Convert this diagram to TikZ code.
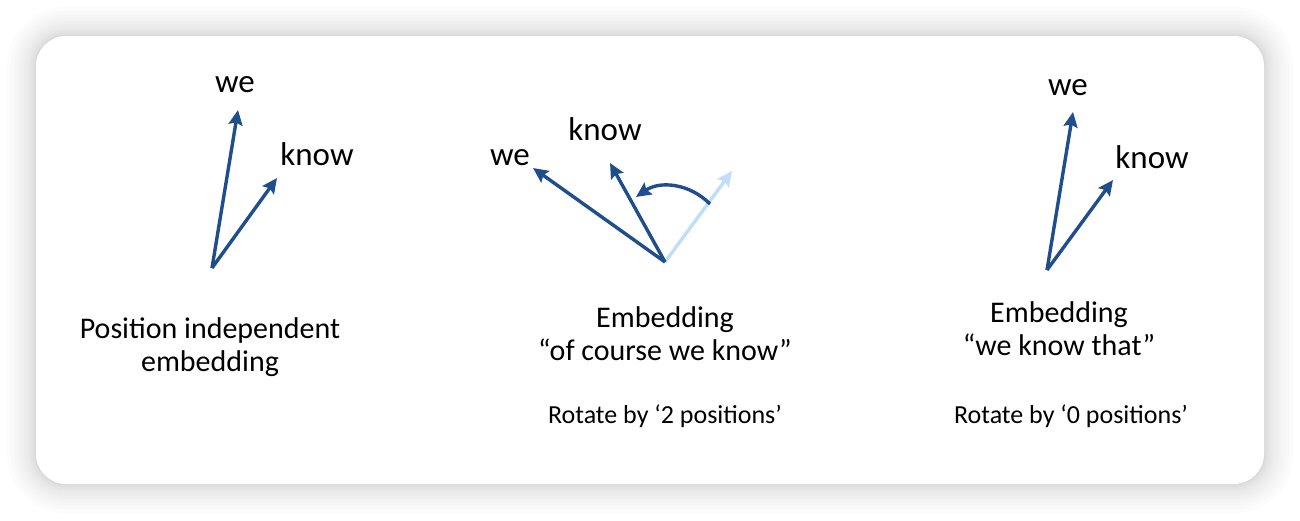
\documentclass[tikz,border=0pt]{standalone}
\usepackage{fontspec}
\setmainfont{Carlito}
\usetikzlibrary{positioning,arrows.meta}
\definecolor{vecblue}{HTML}{1F4E8C}
\definecolor{vecpale}{HTML}{C0DEF7}

\begin{document}
\begin{tikzpicture}[x=0.5pt,y=-0.5pt,>={Stealth[length=7.5pt,width=7pt,inset=1.2pt]},
		vec/.style={->,line width=1.7pt,vecblue},
		word/.style={font=\fontsize{16.5}{19}\selectfont,inner sep=0pt},
		caption/.style={font=\fontsize{15}{16.5}\selectfont,inner sep=0pt,align=center},
		note/.style={font=\fontsize{13}{15}\selectfont,inner sep=0pt}]
		\useasboundingbox (0,0) rectangle (1300,520);
		% card and its soft shadow
		\foreach \s in {1,...,14}
		\fill[black,opacity=0.011,rounded corners=15pt+0.075pt*\s*\s] (36-0.15*\s*\s,36-0.15*\s*\s) rectangle (1264+0.15*\s*\s,484+0.15*\s*\s);
		\fill[white,rounded corners=15pt] (36,36) rectangle (1264,484);
		
		% position independent
		\coordinate (o1) at (212,268);
		\coordinate (we1 tip) at (238,110);
		\coordinate (know1 tip) at (277,178);
		\node[word]    (we1)   at (235,85) {we};
		\node[word]    (know1) at (317,154) {know};
		\draw[vec] (o1) -- (we1 tip);
		\draw[vec] (o1) -- (know1 tip);
		\node[caption] (cap1)  at (210,347) {Position independent\\embedding};
		
		% rotated by two positions
		\coordinate (o2) at (665,262);
		\coordinate (we2 tip) at (533,168);
		\coordinate (know2 tip) at (610,163);
		\coordinate (base2 tip) at (732,171);
		\coordinate (turn2) at (710,204);
		\coordinate (turn2 tip) at (636,197);
		\node[word]    (we2)   at (510,158) {we};
		\node[word]    (know2) at (605,129) {know};
		\draw[vec,vecpale] (o2) -- (base2 tip);
		\draw[vec] (o2) -- (we2 tip);
		\draw[vec] (o2) -- (know2 tip);
		\draw[vec] (turn2) to[bend right=40] (turn2 tip);
		\node[caption] (cap2)  at (665,334) {Embedding\\“of course we know”};
		\node[note]    (rot2)  at (665,416) {Rotate by ‘2 positions’};
		
		% rotated by zero positions
		\coordinate (o3) at (1047,270);
		\coordinate (we3 tip) at (1073,112);
		\coordinate (know3 tip) at (1113,180);
		\node[word]    (we3)   at (1068,88) {we};
		\node[word]    (know3) at (1152,157) {know};
		\draw[vec] (o3) -- (we3 tip);
		\draw[vec] (o3) -- (know3 tip);
		\node[caption] (cap3)  at (1059,329) {Embedding\\“we know that”};
		\node[note]    (rot3)  at (1071,416) {Rotate by ‘0 positions’};
	\end{tikzpicture}
\end{document}
